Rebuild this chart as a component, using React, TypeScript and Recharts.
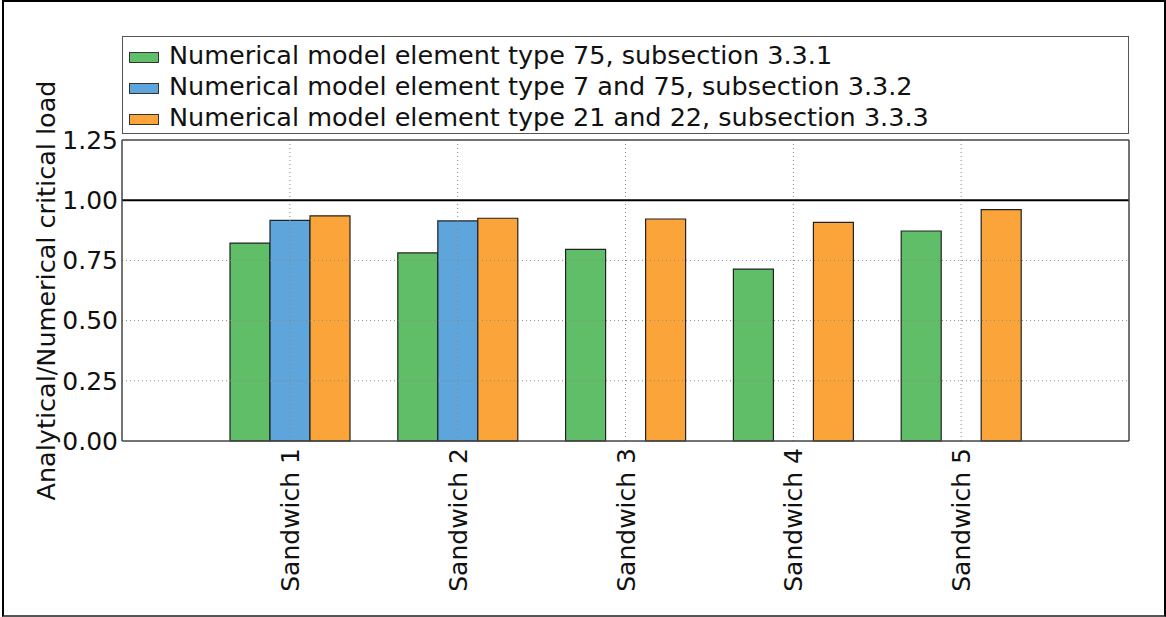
import React from "react";
import {
  BarChart, Bar, XAxis, YAxis, Legend, ReferenceLine,
} from "recharts";

const categories = ["Sandwich 1", "Sandwich 2", "Sandwich 3", "Sandwich 4", "Sandwich 5"];
const type75 = [0.822, 0.781, 0.796, 0.714, 0.872];
const type7and75 = [0.916, 0.914, null, null, null];
const type21and22 = [0.935, 0.925, 0.922, 0.908, 0.961];
const yTicks = [0, 0.25, 0.5, 0.75, 1.0, 1.25];
const gridY = [0.25, 0.5, 0.75];

const series = [
  { key: "m75", label: "Numerical model element type 75, subsection 3.3.1", color: "#60bd68" },
  { key: "m7_75", label: "Numerical model element type 7 and 75, subsection 3.3.2", color: "#5da5da" },
  { key: "m21_22", label: "Numerical model element type 21 and 22, subsection 3.3.3", color: "#faa43a" },
];

const data = categories.map((name, i) => ({
  name,
  m75: type75[i],
  m7_75: type7and75[i],
  m21_22: type21and22[i],
}));

const FONT = "'DejaVu Sans', sans-serif";
const FRAME = { stroke: "#444", strokeWidth: 1.5 };

const LegendBox = () => (
  <div style={{
    border: "1px solid #555", boxSizing: "border-box", width: 1007, height: 98,
    paddingTop: 3, background: "#fff", fontFamily: FONT,
  }}>
    {series.map(s => (
      <div key={s.key} style={{ display: "flex", alignItems: "center", height: 31 }}>
        <div style={{
          width: 28, height: 9, marginLeft: 6, marginRight: 10, marginTop: 4,
          background: s.color, border: "1px solid #333",
        }} />
        <span style={{ fontSize: 25.5, color: "#111", lineHeight: "31px" }}>{s.label}</span>
      </div>
    ))}
  </div>
);

const XTick = ({ x, y, payload }: any) => (
  <text x={x} y={y + 5} transform={`rotate(-90, ${x}, ${y + 5})`} textAnchor="end"
    dy="0.36em" fill="#111" fontSize={25} fontFamily={FONT}>
    {payload.value}
  </text>
);

const YLabel = () => (
  <text x={46} y={290.5} transform="rotate(-90, 46, 290.5)" textAnchor="middle"
    dy="0.36em" fill="#111" fontSize={25.5} fontFamily={FONT}>
    Analytical/Numerical critical load
  </text>
);

export default function App() {
  return (
    <div style={{ position: "absolute", left: 0, top: 0, width: 1166, height: 617, background: "#fff" }}>
      <BarChart width={1166} height={617} data={data} barGap={0} barSize={40}
        margin={{ top: 139, right: 36, bottom: 0, left: 0 }}>
        <XAxis dataKey="name" height={176} padding={{ left: 84, right: 84 }}
          axisLine={FRAME} tickLine={false} tickSize={0}
          tick={<XTick />} interval={0} />
        <XAxis xAxisId="top" dataKey="name" orientation="top" height={1} tick={false}
          tickLine={false} axisLine={FRAME} />
        <YAxis domain={[0, 1.25]} ticks={yTicks} width={122} tickLine={false} tickSize={0}
          tickMargin={4} axisLine={FRAME}
          tickFormatter={(v: number) => v.toFixed(2)}
          tick={{ fill: "#111", fontSize: 25, fontFamily: FONT }}
          label={<YLabel />} />
        <YAxis yAxisId="right" orientation="right" domain={[0, 1.25]} width={1} tick={false}
          tickLine={false} axisLine={FRAME} />
        <Legend layout="vertical" align="center" verticalAlign="middle"
          wrapperStyle={{ top: 36, left: 122, width: 1007, height: 98 }}
          content={<LegendBox />} />
        {series.map(s => (
          <Bar key={s.key} dataKey={s.key} fill={s.color} stroke="#222" strokeWidth={1.2}
            isAnimationActive={false} />
        ))}
        {gridY.map(v => (
          <ReferenceLine key={v} y={v} stroke="#888" strokeDasharray="1 3" />
        ))}
        {categories.map(c => (
          <ReferenceLine key={c} x={c} stroke="#888" strokeDasharray="1 3" />
        ))}
        <ReferenceLine y={1} stroke="#000" strokeWidth={2} />
      </BarChart>
      <div style={{
        position: "absolute", left: 2, top: 0, width: 1160, height: 613,
        borderLeft: "2px solid #000", borderRight: "2px solid #000",
        borderTop: "2px solid #000", borderBottom: "2px solid #555", pointerEvents: "none",
      }} />
    </div>
  );
}
